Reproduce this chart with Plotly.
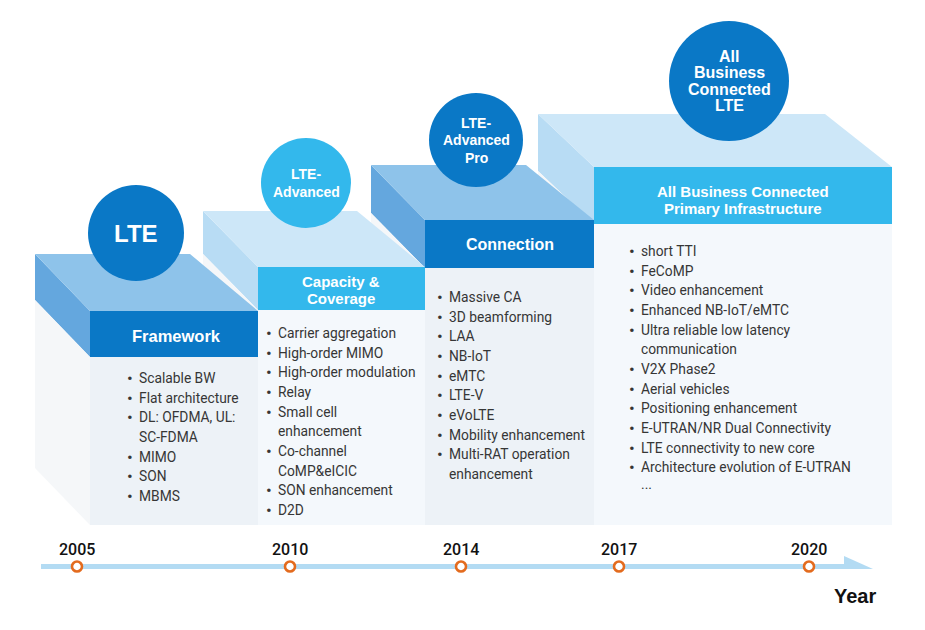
import plotly.graph_objects as go

# ---------------- data ----------------
generations = [
    ["LTE"],
    ["LTE-", "Advanced"],
    ["LTE-", "Advanced", "Pro"],
    ["All", "Business", "Connected", "LTE"],
]
headers = [
    ["Framework"],
    ["Capacity &", "Coverage"],
    ["Connection"],
    ["All Business Connected", "Primary Infrastructure"],
]
features_lte = [
    ["Scalable BW"], ["Flat architecture"], ["DL: OFDMA, UL:", "SC-FDMA"],
    ["MIMO"], ["SON"], ["MBMS"],
]
features_lte_a = [
    ["Carrier aggregation"], ["High-order MIMO"], ["High-order modulation"],
    ["Relay"], ["Small cell", "enhancement"], ["Co-channel", "CoMP&eICIC"],
    ["SON enhancement"], ["D2D"],
]
features_lte_a_pro = [
    ["Massive CA"], ["3D beamforming"], ["LAA"], ["NB-IoT"], ["eMTC"],
    ["LTE-V"], ["eVoLTE"], ["Mobility enhancement"],
    ["Multi-RAT operation", "enhancement"],
]
features_abc = [
    ["short TTI"], ["FeCoMP"], ["Video enhancement"], ["Enhanced NB-IoT/eMTC"],
    ["Ultra reliable low latency", "communication"], ["V2X Phase2"],
    ["Aerial vehicles"], ["Positioning enhancement"],
    ["E-UTRAN/NR Dual Connectivity"], ["LTE connectivity to new core"],
    ["Architecture evolution of E-UTRAN"],
]
features = [features_lte, features_lte_a, features_lte_a_pro, features_abc]
years = ["2005", "2010", "2014", "2017", "2020"]
axis_title = "Year"

# ---------------- layout geometry / style ----------------
W, H = 925, 630
DARK = "#0A78C6"
CYAN = "#33B8EC"
header_col = [DARK, CYAN, DARK, CYAN]
top_col = ["#8EC3EA", "#CDE7F8", "#8EC3EA", "#CDE7F8"]
side_col = ["#64A7DE", "#B8DCF4", "#64A7DE", "#B8DCF4"]
body_col = ["#EDF2F7", "#F4F8FC", "#EDF2F7", "#F4F8FC"]
side_body_col = "#F5F7F9"
circle_col = [DARK, CYAN, DARK, DARK]

bx0 = [90, 258, 425, 594]
bx1 = [258, 425, 594, 892]
btop = [311, 267, 220, 167]
bhead = [357, 310, 268, 224]
back_y = [254, 211, 165, 114]
back_x0 = [35, 203, 371, 538]
back_x1 = [190, 357, 526, 825]
body_bottom = 525

circ_cx = [136, 306, 476, 729]
circ_cy = [233, 183, 140, 81]
circ_r = [48, 45, 47, 60]
circ_font = [24, 14, 14, 16]
circ_line = [0, 18, 17.5, 16.3]

header_cx = [176, 341, 510, 743]
header_y0 = [336, 281, 244, 191]
header_font = [16.5, 15, 16, 15]

list_x = [137, 276, 447, 639]
list_y0 = [378, 333, 297, 251]
line_gap = 19.65

year_x = [77, 290, 461, 619, 809]
tl_y0, tl_y1 = 564, 569
tl_x0, tl_x1 = 41, 845
tip_x = 873
arrow_top = 556

fig = go.Figure()
shapes = []
ann = []


def poly(pts, color, line=None):
    d = "M " + " L ".join(f"{x},{y}" for x, y in pts) + " Z"
    return dict(type="path", path=d, xref="x", yref="y", fillcolor=color,
                line=dict(width=0) if line is None else line, layer="below")


# blocks drawn back to front
for i in [3, 2, 1, 0]:
    dy = btop[i] - back_y[i]
    shapes.append(poly([(back_x0[i], back_y[i]), (bx0[i], btop[i]),
                        (bx0[i], bhead[i]), (back_x0[i], bhead[i] - dy)], side_col[i]))
    shapes.append(poly([(back_x0[i], bhead[i] - dy), (bx0[i], bhead[i]),
                        (bx0[i], body_bottom), (back_x0[i], body_bottom - dy)], side_body_col))
    shapes.append(poly([(back_x0[i], back_y[i]), (back_x1[i], back_y[i]),
                        (bx1[i], btop[i]), (bx0[i], btop[i])], top_col[i]))
    shapes.append(dict(type="rect", xref="x", yref="y", x0=bx0[i], x1=bx1[i],
                       y0=btop[i], y1=bhead[i], fillcolor=header_col[i],
                       line=dict(width=0), layer="below"))
    shapes.append(dict(type="rect", xref="x", yref="y", x0=bx0[i], x1=bx1[i],
                       y0=bhead[i], y1=body_bottom, fillcolor=body_col[i],
                       line=dict(width=0), layer="below"))

# generation circles
for i in range(4):
    shapes.append(dict(type="circle", xref="x", yref="y",
                       x0=circ_cx[i] - circ_r[i], x1=circ_cx[i] + circ_r[i],
                       y0=circ_cy[i] - circ_r[i], y1=circ_cy[i] + circ_r[i],
                       fillcolor=circle_col[i], line=dict(width=0), layer="below"))
    n = len(generations[i])
    for k, t in enumerate(generations[i]):
        y = circ_cy[i] + (k - (n - 1) / 2) * circ_line[i]
        ann.append(dict(x=circ_cx[i], y=y, text=f"<b>{t}</b>", showarrow=False,
                        xanchor="center", yanchor="middle",
                        font=dict(family="Liberation Sans, Arial", size=circ_font[i],
                                  color="white")))

# header texts
for i in range(4):
    for k, t in enumerate(headers[i]):
        ann.append(dict(x=header_cx[i], y=header_y0[i] + k * 17, text=f"<b>{t}</b>",
                        showarrow=False, xanchor="center", yanchor="middle",
                        font=dict(family="Liberation Sans, Arial", size=header_font[i],
                                  color="white")))

# bullet lists
txt_font = dict(family="Roboto, Lato, sans-serif", size=13.8, color="#363636")
bul_font = dict(family="Roboto, Lato, sans-serif", size=17, color="#363636")
for i in range(4):
    row = 0
    for item in features[i]:
        for k, line in enumerate(item):
            y = list_y0[i] + row * line_gap
            if k == 0:
                ann.append(dict(x=list_x[i] - 7.5, y=y, text="•", showarrow=False,
                                xanchor="center", yanchor="middle", font=bul_font))
            ann.append(dict(x=list_x[i], y=y, text=line, showarrow=False,
                            xanchor="left", yanchor="middle", font=txt_font))
            row += 1
    if i == 3:
        ann.append(dict(x=list_x[i], y=list_y0[i] + row * line_gap - 3, text="...",
                        showarrow=False, xanchor="left", yanchor="middle", font=txt_font))

# timeline
shapes.append(dict(type="rect", xref="x", yref="y", x0=tl_x0, x1=tl_x1, y0=tl_y0, y1=tl_y1,
                   fillcolor="#B3DBF3", line=dict(width=0), layer="below"))
shapes.append(poly([(tl_x1 - 1, arrow_top), (tip_x, tl_y1), (tl_x1 - 1, tl_y1)], "#B3DBF3"))

fig.add_trace(go.Scatter(
    x=year_x, y=[(tl_y0 + tl_y1) / 2] * len(year_x), mode="markers",
    marker=dict(symbol="circle", size=10, color="white",
                line=dict(color="#E36B1E", width=2.6)),
    hoverinfo="skip", showlegend=False))

for x, t in zip(year_x, years):
    ann.append(dict(x=x, y=549, text=t, showarrow=False, xanchor="center", yanchor="middle",
                    font=dict(family="Roboto, sans-serif", size=16, color="#111111",
                              weight=500)))

ann.append(dict(x=855, y=596, text=f"<b>{axis_title}</b>", showarrow=False,
                xanchor="center", yanchor="middle",
                font=dict(family="Liberation Sans, Arial", size=20, color="#111111")))

fig.update_layout(
    width=W, height=H, margin=dict(l=0, r=0, t=0, b=0),
    paper_bgcolor="white", plot_bgcolor="white",
    xaxis=dict(range=[0, W], visible=False, fixedrange=True),
    yaxis=dict(range=[H, 0], visible=False, fixedrange=True),
    shapes=shapes, annotations=ann, showlegend=False,
)

fig.write_html("out.html", config={"displayModeBar": False},
               post_script="document.body.style.margin='0';document.body.style.overflow='hidden';")
